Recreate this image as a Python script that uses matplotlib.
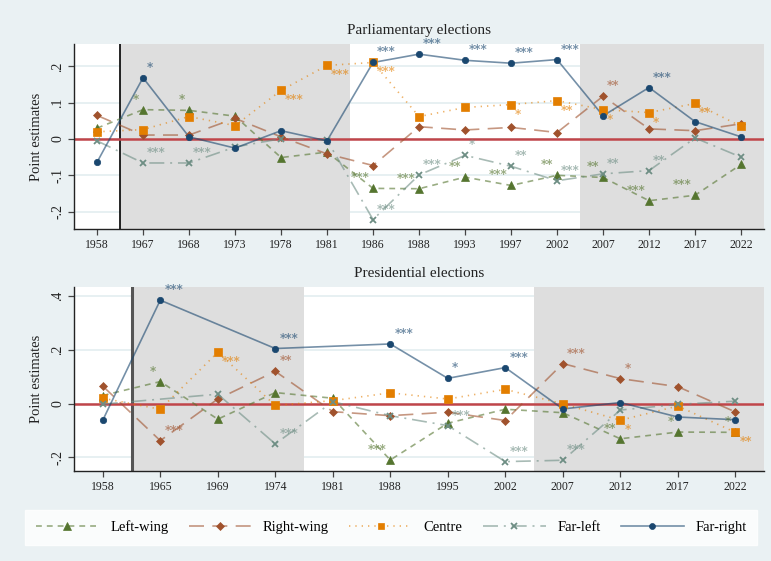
import numpy as np
import matplotlib
matplotlib.use("Agg")
import matplotlib.pyplot as plt
from matplotlib.lines import Line2D
from matplotlib.colors import to_rgba

plt.rcParams['font.family'] = ['Liberation Serif', 'DejaVu Serif']

# ---------------- Parliamentary elections ----------------
parl_years = ['1958', '1967', '1968', '1973', '1978', '1981', '1986', '1988',
              '1993', '1997', '2002', '2007', '2012', '2017', '2022']
parl_left = [0.030, 0.081, 0.079, 0.063, -0.051, -0.036, -0.136, -0.137,
             -0.105, -0.128, -0.100, -0.106, -0.170, -0.155, -0.070]
parl_right = [0.065, 0.011, 0.011, 0.057, 0.006, -0.041, -0.073, 0.034,
              0.025, 0.032, 0.018, 0.118, 0.028, 0.023, 0.042]
parl_centre = [0.020, 0.026, 0.062, 0.037, 0.134, 0.203, 0.211, 0.062,
               0.087, 0.095, 0.106, 0.081, 0.073, 0.098, 0.035]
parl_farleft = [-0.005, -0.066, -0.066, -0.022, 0.001, -0.003, -0.222, -0.099,
                -0.045, -0.075, -0.115, -0.096, -0.087, 0.003, -0.050]
parl_farright = [-0.064, 0.169, 0.006, -0.025, 0.023, -0.005, 0.211, 0.234,
                 0.217, 0.209, 0.219, 0.064, 0.142, 0.048, 0.006]
parl_left_sig = ['', '*', '*', '', '', '', '***', '***', '**', '***', '**', '**', '***', '***', '']
parl_right_sig = ['', '', '', '', '', '', '', '', '', '', '', '**', '', '', '']
parl_centre_sig = ['', '', '', '', '***', '***', '***', '', '', '*', '**', '*', '*', '**', '']
parl_farleft_sig = ['', '***', '***', '', '', '', '***', '***', '*', '**', '***', '**', '**', '', '']
parl_farright_sig = ['', '*', '', '', '', '', '***', '***', '***', '***', '***', '', '***', '', '']

# ---------------- Presidential elections ----------------
pres_years = ['1958', '1965', '1969', '1974', '1981', '1988', '1995', '2002',
              '2007', '2012', '2017', '2022']
nan = np.nan
pres_left = [0.030, 0.082, -0.058, 0.041, 0.020, -0.210, -0.073, -0.021,
             -0.034, -0.131, -0.106, -0.107]
pres_right = [0.065, -0.138, 0.017, 0.120, -0.030, -0.045, -0.032, -0.063,
              0.149, 0.093, 0.063, -0.031]
pres_centre = [0.020, -0.021, 0.191, -0.007, 0.011, 0.040, 0.017, 0.053,
               -0.001, -0.062, -0.009, -0.107]
pres_farleft = [-0.002, nan, 0.035, -0.150, 0.007, -0.045, -0.082, -0.216,
                -0.211, -0.024, -0.003, 0.009]
pres_farright = [-0.062, 0.385, nan, 0.205, nan, 0.222, 0.094, 0.134,
                 -0.020, 0.004, -0.050, -0.060]
pres_left_sig = ['', '*', '', '', '', '***', '', '', '', '**', '*', '*']
pres_right_sig = ['', '***', '', '**', '', '', '', '', '***', '*', '', '']
pres_centre_sig = ['', '', '***', '', '', '', '', '', '', '*', '', '**']
pres_farleft_sig = ['', '', '', '***', '', '', '***', '***', '***', '', '', '']
pres_farright_sig = ['', '***', '', '***', '', '***', '*', '***', '', '', '', '']

series_names = ['Left-wing', 'Right-wing', 'Centre', 'Far-left', 'Far-right']
colors = ['#55752f', '#a0522d', '#e37e00', '#6e8e84', '#1a476f']
markers = ['^', 'D', 's', 'x', 'o']
msizes = [5.5, 4.2, 5.2, 5.0, 4.6]
dashes = [(0, (3.5, 3)), (0, (9, 5)), (0, (0.8, 3)), (0, (9, 3.5, 1.2, 3.5)), '-']
# label position (pixel offsets, horizontal alignment, vertical alignment)
label_pos = [(-4, 4, 'right', 'bottom'), (4, 4, 'left', 'bottom'),
             (4, -3, 'left', 'top'), (4, 4, 'left', 'bottom'),
             (4, 4, 'left', 'bottom')]
line_alpha = 0.6

bg = '#eaf1f3'
shade = '#dedede'
grid_c = '#e3edf0'


def draw_panel(ax, years, values, sigs, shades, vline, vline_color, vline_w,
               yticks, yticklabels, ylim, title):
    n = len(years)
    x = np.arange(n)
    ax.set_facecolor('white')
    for yt in yticks:
        ax.axhline(yt, color=grid_c, lw=1.2, zorder=0)
    for a, b in shades:
        ax.axvspan(a, b, color=shade, lw=0, zorder=1)
    ax.axvline(vline, color=vline_color, lw=vline_w, zorder=2)
    ax.axhline(0, color='#c0454a', lw=1.8, zorder=2.5)
    for i in range(5):
        v = np.asarray(values[i], dtype=float)
        ok = ~np.isnan(v)
        ax.plot(x[ok], v[ok], color=colors[i], alpha=line_alpha, lw=1.2,
                linestyle=dashes[i], zorder=3)
        ax.plot(x[ok], v[ok], linestyle='none', marker=markers[i],
                ms=msizes[i], color=colors[i], mec=colors[i],
                mew=1.3 if markers[i] == 'x' else 0.5, zorder=4)
        dx, dy, ha, va = label_pos[i]
        for xi, vi, s in zip(x, v, sigs[i]):
            if s and not np.isnan(vi):
                ax.annotate(s, (xi, vi), xytext=(dx, dy),
                            textcoords='offset pixels', ha=ha, va=va,
                            fontsize=8.5, color=colors[i], alpha=0.6,
                            family='DejaVu Sans', fontweight='bold', zorder=5)
    ax.set_xlim(-0.5, n - 0.5)
    ax.set_ylim(*ylim)
    ax.set_xticks(x)
    ax.set_xticklabels(years, fontsize=8.5, color='#222222')
    ax.set_yticks(yticks)
    ax.set_yticklabels(yticklabels, rotation=90, va='center', fontsize=10,
                       color='#222222')
    ax.set_ylabel('Point estimates', fontsize=10.5, color='#222222', labelpad=6)
    ax.set_title(title, fontsize=11, color='#222222', pad=7)
    for s in ['top', 'right']:
        ax.spines[s].set_visible(False)
    for s in ['left', 'bottom']:
        ax.spines[s].set_color('#222222')
        ax.spines[s].set_linewidth(1.0)
    ax.tick_params(axis='both', length=4, width=0.9, color='#444444')
    ax.tick_params(axis='y', pad=3)


fig = plt.figure(figsize=(7.71, 5.61), dpi=100)
fig.patch.set_facecolor(bg)

ax1 = fig.add_axes([0.0960, 0.5918, 0.895, 0.3298])
draw_panel(ax1, parl_years,
           [parl_left, parl_right, parl_centre, parl_farleft, parl_farright],
           [parl_left_sig, parl_right_sig, parl_centre_sig, parl_farleft_sig,
            parl_farright_sig],
           [(0.5, 5.5), (10.5, 14.5)], 0.5, 'black', 1.2,
           [-0.2, -0.1, 0, 0.1, 0.2], ['-.2', '-.1', '0', '.1', '.2'],
           (-0.248, 0.262), 'Parliamentary elections')

ax2 = fig.add_axes([0.0960, 0.1604, 0.895, 0.328])
draw_panel(ax2, pres_years,
           [pres_left, pres_right, pres_centre, pres_farleft, pres_farright],
           [pres_left_sig, pres_right_sig, pres_centre_sig, pres_farleft_sig,
            pres_farright_sig],
           [(0.5, 3.5), (7.5, 11.5)], 0.5, '#555555', 2.2,
           [-0.2, 0, 0.2, 0.4], ['-.2', '0', '.2', '.4'],
           (-0.251, 0.434), 'Presidential elections')

handles = []
for i in range(5):
    handles.append(Line2D([], [], color=to_rgba(colors[i], line_alpha), lw=1.2,
                          linestyle=dashes[i], marker=markers[i],
                          ms=msizes[i] - 0.3, mfc=colors[i], mec=colors[i],
                          mew=1.3 if markers[i] == 'x' else 0.5))
leg = fig.legend(handles, series_names, loc='center',
                 bbox_to_anchor=(0.0324, 0.0267, 0.95, 0.066), mode='expand',
                 ncol=5, fontsize=10.5, frameon=True, fancybox=False,
                 handlelength=4.3, handletextpad=0.8, columnspacing=2.0,
                 borderaxespad=0, borderpad=0.75)
leg.get_frame().set_facecolor('white')
leg.get_frame().set_edgecolor('white')

fig.savefig('out.png', dpi=100, facecolor=bg)
